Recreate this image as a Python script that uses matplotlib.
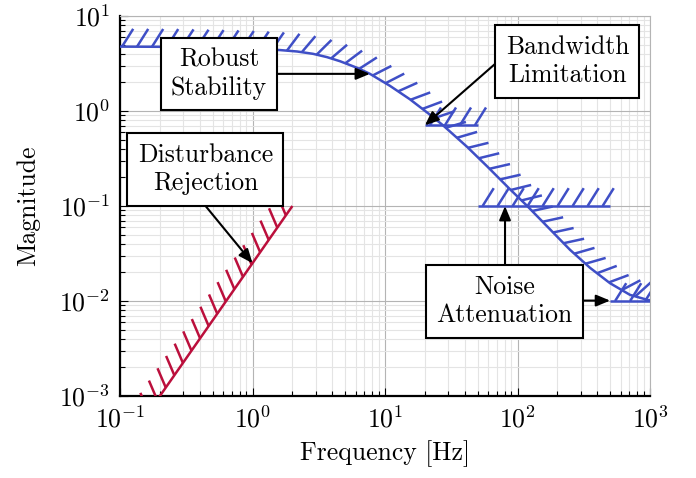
import numpy as np
import matplotlib
matplotlib.use('Agg')
import matplotlib.pyplot as plt
from matplotlib.ticker import LogLocator, FuncFormatter, NullFormatter

plt.rcParams['font.family'] = 'serif'
plt.rcParams['font.serif'] = ['cmr10']
plt.rcParams['mathtext.fontset'] = 'cm'
plt.rcParams['axes.formatter.use_mathtext'] = True

# robust stability bound
freq_rs = [0.1, 0.284, 0.713, 1.14, 1.61, 2.17, 2.86, 3.65, 4.58, 6.15, 7.7,
           10.9, 15.4, 21.9, 27.4, 41.6, 58.9, 87.8, 118, 176, 249, 352, 499,
           707, 1000]
mag_rs = [4.76, 4.73, 4.59, 4.48, 4.38, 4.23, 4.0, 3.69, 3.34, 2.85, 2.46,
          1.84, 1.33, 0.912, 0.707, 0.42, 0.262, 0.15, 0.1005, 0.0568, 0.0346,
          0.0224, 0.0154, 0.0116, 0.0101]

# disturbance rejection bound
freq_dr = [0.1, 2.0]
mag_dr = [2.5e-4, 0.1]

# bandwidth limitation and noise attenuation bounds
freq_bw = [20, 50]
mag_bw = [0.707, 0.707]
freq_na1 = [50, 500]
mag_na1 = [0.1, 0.1]
freq_na2 = [500, 1000]
mag_na2 = [0.01, 0.01]

blue = '#3f4fc6'
red = '#bb0f3c'
fs = 18.5
lw = 1.8


def hatched(ax, x, y, color, spacing=15, length=21, angle=58, offset=5):
    """line with short hatch marks on its left side (in drawing direction)"""
    ax.plot(x, y, color=color, lw=lw, solid_capstyle='butt', zorder=3)
    pts = ax.transData.transform(np.column_stack([x, y]))
    seg = np.diff(pts, axis=0)
    seglen = np.hypot(seg[:, 0], seg[:, 1])
    cum = np.concatenate([[0], np.cumsum(seglen)])
    a = np.radians(angle)
    inv = ax.transData.inverted()
    for s in np.arange(offset, cum[-1], spacing):
        i = min(np.searchsorted(cum, s, side='right') - 1, len(seg) - 1)
        t = (s - cum[i]) / seglen[i]
        base = pts[i] + t * seg[i]
        d = seg[i] / seglen[i]
        rot = np.array([d[0]*np.cos(a) - d[1]*np.sin(a),
                        d[0]*np.sin(a) + d[1]*np.cos(a)])
        tip = base + length * rot
        xy = inv.transform(np.vstack([base, tip]))
        ax.plot(xy[:, 0], xy[:, 1], color=color, lw=lw,
                solid_capstyle='butt', zorder=3)


def label(ax, x, y, txt):
    ax.text(x, y, txt, ha='center', va='center', fontsize=fs, zorder=6,
            linespacing=1.25,
            bbox=dict(boxstyle='square,pad=0.4', fc='white', ec='black', lw=1.5))


def arrow(ax, start, end):
    ax.annotate('', xy=end, xytext=start, zorder=5,
                arrowprops=dict(arrowstyle='-|>,head_length=0.6,head_width=0.25',
                                mutation_scale=14, color='black', lw=1.5,
                                shrinkA=0, shrinkB=0))


fig = plt.figure(figsize=(6.96, 4.78), dpi=100)
ax = fig.add_axes([120/696, 1-396/478, 530/696, 380/478])
ax.set_xscale('log')
ax.set_yscale('log')
ax.set_xlim(0.1, 1000)
ax.set_ylim(1e-3, 10)

ax.xaxis.set_minor_locator(LogLocator(base=10, subs=np.arange(2, 10)))
ax.yaxis.set_minor_locator(LogLocator(base=10, subs=np.arange(2, 10)))
ax.xaxis.set_minor_formatter(NullFormatter())
ax.yaxis.set_minor_formatter(NullFormatter())
fmt = FuncFormatter(lambda v, p: r'$10^{%d}$' % round(np.log10(v)))
ax.xaxis.set_major_formatter(fmt)
ax.yaxis.set_major_formatter(fmt)

ax.set_axisbelow(True)
ax.grid(True, which='major', color='#b4b4b4', lw=0.8)
ax.grid(True, which='minor', color='#e4e4e4', lw=0.8)
ax.tick_params(which='both', direction='in', top=False, right=False,
               labelsize=fs, width=0.8)
ax.tick_params(which='major', length=5.5, pad=7)
ax.tick_params(which='minor', length=3.5)
for side in ['left', 'bottom']:
    ax.spines[side].set_linewidth(1.6)
for side in ['top', 'right']:
    ax.spines[side].set_color('#b4b4b4')
    ax.spines[side].set_linewidth(0.8)

ax.set_xlabel('Frequency [Hz]', fontsize=fs, labelpad=6)
ax.set_ylabel('Magnitude', fontsize=fs, labelpad=14)

hatched(ax, freq_rs, mag_rs, blue, offset=2)
hatched(ax, freq_bw, mag_bw, blue, offset=5)
hatched(ax, freq_na1, mag_na1, blue, offset=5)
hatched(ax, freq_na2, mag_na2, blue, offset=5)
hatched(ax, freq_dr, mag_dr, red, offset=5)

label(ax, 0.558, 2.46, 'Robust\nStability')
arrow(ax, (1.56, 2.46), (7.7, 2.46))

label(ax, 238, 3.34, 'Bandwidth\nLimitation')
arrow(ax, (70, 3.26), (20, 0.707))

label(ax, 0.441, 0.243, 'Disturbance\nRejection')
arrow(ax, (0.445, 0.099), (1.0, 0.025))

label(ax, 79.8, 0.0099, 'Noise\nAttenuation')
arrow(ax, (80.5, 0.0226), (80.5, 0.1))
arrow(ax, (312, 0.0101), (500, 0.0101))

fig.savefig('out.png', dpi=100)
